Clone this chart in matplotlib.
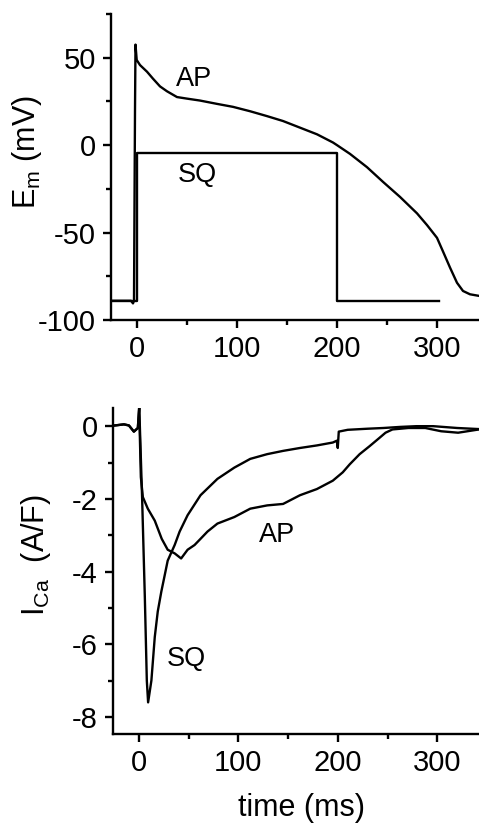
import matplotlib
matplotlib.use("Agg")
import matplotlib.pyplot as plt
from matplotlib.ticker import MultipleLocator

plt.rcParams['font.family'] = ['Liberation Sans', 'DejaVu Sans']
plt.rcParams['mathtext.fontset'] = 'custom'
plt.rcParams['mathtext.rm'] = 'Liberation Sans'
plt.rcParams['axes.unicode_minus'] = False

# ---------------- data: membrane potential (mV) vs time (ms) ----------------
ap_t = [-26, -6, -4, -3, -2, -1.5, -0.3, 3, 10, 16, 23, 30, 40, 50, 63, 80, 96,
        113, 130, 146, 163, 180, 196, 200, 213, 230, 246, 263, 280, 290, 300,
        306, 313, 320, 326, 333, 342]
ap_v = [-89, -89, -90.5, -89, 20, 57.5, 48.7, 45.8, 42, 38, 33.6, 30.8, 27.5,
        26.6, 25.5, 23.6, 21.9, 19.4, 16.6, 13.8, 10, 6.2, 1.5, 0, -5, -12.6,
        -21, -29.6, -39, -45.7, -53, -60.8, -70, -78.7, -83.4, -85.3, -86.2]

sq_t = [-26, 0, 0, 200, 200, 302]
sq_v = [-89, -89, -4.7, -4.7, -89, -89]

# ---------------- data: I_Ca (A/F) vs time (ms) ----------------
ica_sq_t = [-24, -15, -10, -5, -1, 0.3, 1, 3.3, 6, 8, 9.3, 12.6, 16, 19, 22.6,
            26, 29, 36, 41, 49, 62, 79, 96, 112, 129, 145, 162, 179, 195, 199,
            200, 201, 210, 230, 246, 263, 279, 296, 320, 342]
ica_sq_v = [0.02, 0.05, 0.02, -0.15, -0.05, 0.5, 0.0, -2.0, -4.7, -7.0, -7.6,
            -7.0, -5.8, -5.1, -4.55, -4.1, -3.7, -3.27, -2.9, -2.45, -1.9,
            -1.45, -1.14, -0.9, -0.77, -0.68, -0.6, -0.53, -0.45, -0.4, -0.6,
            -0.15, -0.1, -0.07, -0.05, -0.02, 0.0, 0.0, -0.05, -0.08]

ica_ap_t = [-24, -15, -10, -5, -1, 0.3, 2, 4, 9, 16, 23, 29, 36, 42.5, 49, 56,
            62, 69, 79, 96, 112, 129, 145, 162, 179, 195, 205, 212, 222, 232,
            242, 248, 255, 271, 288, 304, 321, 342]
ica_ap_v = [0.02, 0.05, 0.02, -0.15, -0.05, 0.5, -1.4, -1.95, -2.27, -2.6, -3.1,
            -3.4, -3.5, -3.64, -3.4, -3.27, -3.1, -2.9, -2.68, -2.5, -2.27,
            -2.18, -2.14, -1.9, -1.73, -1.5, -1.27, -1.05, -0.77, -0.55, -0.32,
            -0.18, -0.09, -0.05, -0.05, -0.14, -0.18, -0.09]

# ---------------- figure ----------------
W, H = 479, 823
fig = plt.figure(figsize=(W / 100, H / 100), dpi=100)

def px_axes(l, t, r, b):
    return fig.add_axes([l / W, 1 - b / H, (r - l) / W, (b - t) / H])

ax1 = px_axes(111, 14, 479, 320)
ax2 = px_axes(113, 408, 479, 734)

LW = 1.7
tick_fs = 21
for ax in (ax1, ax2):
    for s in ('top', 'right'):
        ax.spines[s].set_visible(False)
    for s in ('left', 'bottom'):
        ax.spines[s].set_linewidth(1.7)
    ax.tick_params(which='major', direction='out', length=6, width=1.7,
                   labelsize=tick_fs, pad=5)
    ax.tick_params(which='minor', direction='out', length=3.5, width=1.7)
    ax.set_xlim(-26, 342)
    ax.xaxis.set_major_locator(MultipleLocator(100))
    ax.xaxis.set_minor_locator(MultipleLocator(50))

# top panel
ax1.plot(ap_t, ap_v, color='black', lw=LW)
ax1.plot(sq_t, sq_v, color='black', lw=LW)
ax1.set_ylim(-100, 75)
ax1.yaxis.set_major_locator(MultipleLocator(50))
ax1.yaxis.set_minor_locator(MultipleLocator(25))
ax1.text(57, 38, 'AP', fontsize=19.5, ha='center', va='center')
ax1.text(60, -17, 'SQ', fontsize=19.5, ha='center', va='center')

# bottom panel
ax2.plot(ica_sq_t, ica_sq_v, color='black', lw=LW)
ax2.plot(ica_ap_t, ica_ap_v, color='black', lw=LW)
ax2.set_ylim(-8.47, 0.5)
ax2.set_yticks([0, -2, -4, -6, -8])
ax2.set_yticks([-1, -3, -5, -7], minor=True)
ax2.text(139, -3.0, 'AP', fontsize=19.5, ha='center', va='center')
ax2.text(47.5, -6.4, 'SQ', fontsize=19.5, ha='center', va='center')

# axis labels
fig.text(27 / W, 1 - 152 / H, r'E$_{\mathregular{m}}$ (mV)', rotation=90,
         fontsize=22, ha='center', va='center')
fig.text(36 / W, 1 - 555 / H, r'I$_{\mathregular{Ca}}$  (A/F)', rotation=90,
         fontsize=22, ha='center', va='center')
fig.text(301 / W, 1 - 808 / H, 'time (ms)', fontsize=22, ha='center',
         va='center')

fig.savefig('out.png', dpi=100)
